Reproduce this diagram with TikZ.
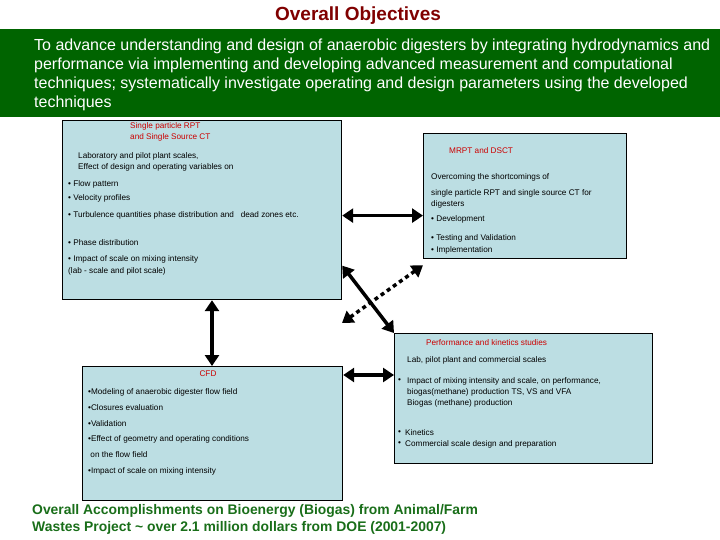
\documentclass[tikz,border=0pt]{standalone}
\usepackage{fontspec}
\setmainfont{Liberation Sans}
\usetikzlibrary{arrows.meta}
\definecolor{boxblue}{RGB}{188,222,227}
\definecolor{bandgreen}{RGB}{0,100,0}
\definecolor{titlered}{RGB}{128,0,0}
\definecolor{headred}{RGB}{204,0,0}
\definecolor{notegreen}{RGB}{25,110,25}
\tikzset{
  panel/.style={draw=black, line width=1.2pt, fill=boxblue, anchor=north west, inner sep=0pt},
  line/.style={anchor=west, inner sep=0pt, font=\fontsize{8.2}{10}\selectfont},
  head/.style={line, text=headred},
  objline/.style={anchor=west, inner sep=0pt, text=white, font=\fontsize{16}{19}\selectfont},
  noteline/.style={anchor=west, inner sep=0pt, text=notegreen, font=\bfseries\fontsize{13.9}{16}\selectfont},
  link/.style={line width=3.5pt, {Triangle[length=11pt,width=14pt]}-{Triangle[length=11pt,width=14pt]}},
}
\begin{document}
\begin{tikzpicture}[x=1pt,y=-1pt]
\useasboundingbox (0,0) rectangle (720,540);
% objectives band
\node[font=\bfseries\fontsize{19}{22}\selectfont, text=titlered] (title) at (358,16) {Overall Objectives};
\fill[bandgreen] (0,29) rectangle (720,117);
\foreach \y/\t [count=\i] in {46/{To advance understanding and design of anaerobic digesters by integrating hydrodynamics and},
    65/{performance via implementing and developing advanced measurement and computational},
    84/{techniques; systematically investigate operating and design parameters using the developed},
    103/{techniques}}
  \node[objline] (obj\i) at (34,\y) {\t};

% boxes
\node[panel, minimum width=279pt, minimum height=179pt] (rpt) at (62,120) {};
\node[panel, minimum width=203pt, minimum height=125pt] (mrpt) at (423,133) {};
\node[panel, minimum width=258pt, minimum height=130pt] (kin) at (394,333) {};
\node[panel, minimum width=260pt, minimum height=134pt] (cfd) at (82,366) {};

% single particle RPT box
\node[head] (rpth1) at (130,126) {Single particle RPT};
\node[head] (rpth2) at (130,137) {and Single Source CT};
\node[line] (rptl1) at (78,156) {Laboratory and pilot plant scales,};
\node[line] (rptl2) at (78,167) {Effect of design and operating variables on};
\foreach \y/\t [count=\i from 3] in {184/{• Flow pattern}, 198/{• Velocity profiles},
    215/{• Turbulence quantities phase distribution and\ \ \ dead zones etc.},
    243/{• Phase distribution}, 259/{• Impact of scale on mixing intensity},
    271/{(lab - scale and pilot scale)}}
  \node[line] (rptl\i) at (68,\y) {\t};

% MRPT box
\node[head] (mrpth) at (449,151) {MRPT and DSCT};
\foreach \y/\t [count=\i] in {177/{Overcoming the shortcomings of},
    193/{single particle RPT and single source CT for}, 204/{digesters},
    219/{• Development}, 238/{• Testing and Validation}, 250/{• Implementation}}
  \node[line] (mrptl\i) at (431,\y) {\t};

% performance box
\node[head] (kinh) at (426,343) {Performance and kinetics studies};
\node[line] (kinl1) at (407,360) {Lab, pilot plant and commercial scales};
\node[line] (kinb1) at (398,381) {•};
\foreach \y/\t [count=\i from 2] in {381/{Impact of mixing intensity and scale, on performance,},
    392/{biogas(methane) production TS, VS and VFA}, 403/{Biogas (methane) production}}
  \node[line] (kinl\i) at (407,\y) {\t};
\node[line] (kinb2) at (398,433) {•};
\node[line] (kinl5) at (405,433) {Kinetics};
\node[line] (kinb3) at (398,444) {•};
\node[line] (kinl6) at (405,444) {Commercial scale design and preparation};

% CFD box
\node[head, anchor=center] (cfdh) at (208,374) {CFD};
\foreach \y/\t [count=\i] in {392/{•Modeling of anaerobic digester flow field},
    408/{•Closures evaluation}, 424/{•Validation},
    439/{•Effect of geometry and operating conditions}, 455/{\ on the flow field},
    471/{•Impact of scale on mixing intensity}}
  \node[line] (cfdl\i) at (88,\y) {\t};

% connectors
\coordinate (j1) at ([yshift=-5.5pt]rpt.east);
\coordinate (j2) at ([yshift=-55.5pt]rpt.east);
\coordinate (j4) at ([yshift=-9pt]cfd.north east);
\coordinate (j5) at ([xshift=150pt]rpt.south west);
\coordinate (d1) at ([yshift=-6pt]mrpt.south west);
\coordinate (d2) at (342,323);
\draw[link] (j1) -- (j1 -| mrpt.west);
\draw[link] (j2) -- (kin.north west);
\draw[link, dash pattern=on 4pt off 3.5pt] (d1) -- (d2);
\draw[link] (j4) -- (j4 -| kin.west);
\draw[link] (j5) -- (j5 |- cfd.north);

% accomplishments
\node[noteline] (note1) at (32,511) {Overall Accomplishments on Bioenergy (Biogas) from Animal/Farm};
\node[noteline] (note2) at (32,528) {Wastes Project \textasciitilde\ over 2.1 million dollars from DOE (2001-2007)};
\end{tikzpicture}
\end{document}
